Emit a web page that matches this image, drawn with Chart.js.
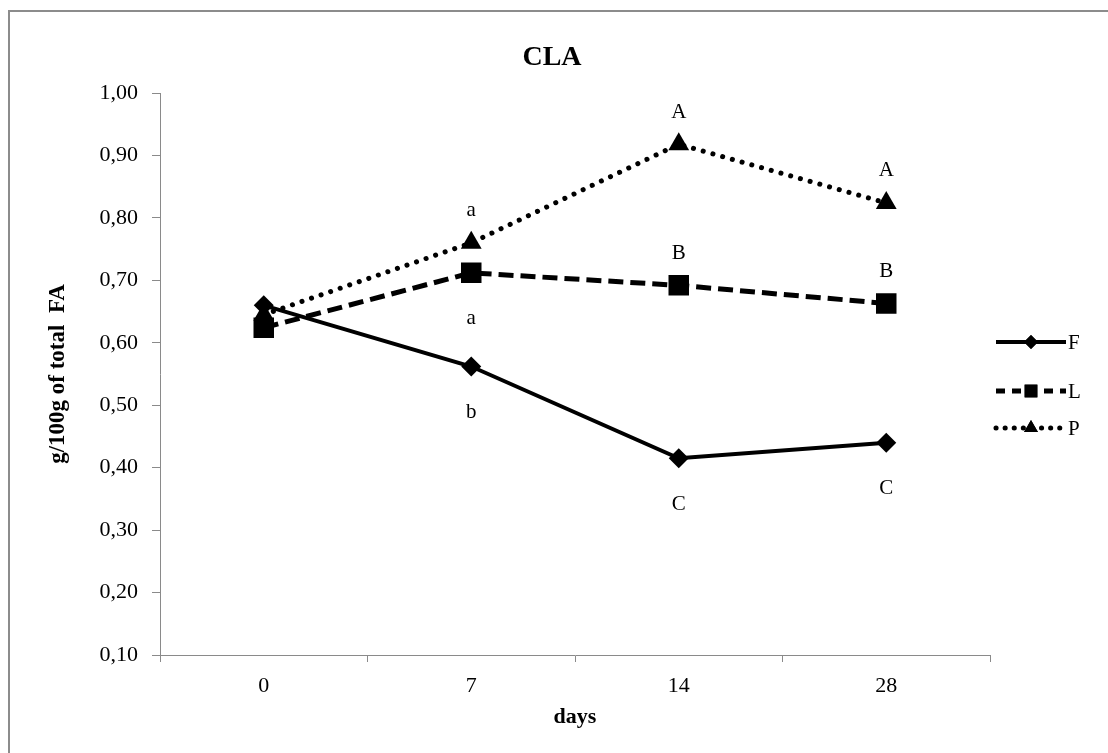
<!DOCTYPE html>
<html>
<head>
<meta charset="utf-8">
<script src="https://cdn.jsdelivr.net/npm/chart.js@4/dist/chart.umd.min.js"></script>
<style>
  html, body { margin: 0; padding: 0; background: #fff; }
  #wrap { width: 1108px; height: 753px; }
</style>
</head>
<body>
<div id="wrap"><canvas id="claChart" width="1108" height="753"></canvas></div>
<script>
// values
const days = ['0', '7', '14', '28'];
const fValues = [0.660, 0.562, 0.415, 0.440];
const lValues = [0.624, 0.712, 0.692, 0.663];
const pValues = [0.645, 0.760, 0.918, 0.824];

// significance letters and whether they sit above or below the point
const fLetters = ['', 'b', 'C', 'C'];
const fLetterSide = ['', 'below', 'below', 'below'];
const lLetters = ['', 'a', 'B', 'B'];
const lLetterSide = ['', 'below', 'above', 'above'];
const pLetters = ['', 'a', 'A', 'A'];
const pLetterSide = ['', 'above', 'above', 'above'];

const yTicksMin = 0.1;
const yTicksMax = 1.0;
const yTicksStep = 0.1;

const chartTitle = 'CLA';
const serif = '"Liberation Serif", "Times New Roman", serif';
const axisGray = '#8a8a8a';

// little helper for the markers in the legend
function marker(ctx, style, r, x, y) {
  if (Chart.helpers && Chart.helpers.drawPoint) {
    Chart.helpers.drawPoint(ctx, { pointStyle: style, radius: r, rotation: 0, borderWidth: 0 }, x, y);
    ctx.fill();
  }
}

const extras = {
  id: 'extras',
  beforeDraw(chart) {
    const ctx = chart.ctx;
    ctx.save();
    ctx.fillStyle = '#fff';
    ctx.fillRect(0, 0, chart.width, chart.height);
    ctx.strokeStyle = '#8c8c8c';
    ctx.lineWidth = 2;
    ctx.strokeRect(9, 11, chart.width + 50, chart.height + 50);
    // title, sitting a bit left of the plot centre like the original
    ctx.fillStyle = '#000';
    ctx.font = 'bold 28px ' + serif;
    ctx.textAlign = 'center';
    ctx.textBaseline = 'middle';
    ctx.fillText(chartTitle, 552, 58);
    ctx.restore();
  },
  afterDatasetsDraw(chart) {
    const ctx = chart.ctx;
    ctx.save();
    ctx.font = '21px ' + serif;
    ctx.fillStyle = '#000';
    ctx.textAlign = 'center';
    ctx.textBaseline = 'middle';
    chart.data.datasets.forEach((ds, i) => {
      const meta = chart.getDatasetMeta(i);
      ds.letters.forEach((txt, j) => {
        if (!txt) return;
        const pt = meta.data[j];
        const dy = ds.letterSide[j] === 'above' ? -32 : 46;
        ctx.fillText(txt, pt.x, pt.y + dy);
      });
    });
    ctx.restore();
  },
  afterDraw(chart) {
    const ctx = chart.ctx;
    const rows = [342, 391, 428];
    ctx.save();
    chart.data.datasets.forEach((ds, i) => {
      const y = rows[i];
      ctx.strokeStyle = '#000';
      ctx.fillStyle = '#000';
      ctx.lineWidth = ds.borderWidth;
      ctx.lineCap = ds.borderCapStyle || 'butt';
      ctx.setLineDash(ds.legendDash);
      ctx.beginPath();
      ctx.moveTo(996, y);
      ctx.lineTo(1066, y);
      ctx.stroke();
      ctx.setLineDash([]);
      marker(ctx, ds.pointStyle, ds.legendRadius, 1031, y);
      ctx.font = '21px ' + serif;
      ctx.textAlign = 'left';
      ctx.textBaseline = 'middle';
      ctx.fillText(ds.label, 1068, y + 1);
    });
    ctx.restore();
  }
};

document.addEventListener('DOMContentLoaded', function () {
  const ctx = document.getElementById('claChart').getContext('2d');

  new Chart(ctx, {
    type: 'line',
    data: {
      labels: days,
      datasets: [
        {
          label: 'F',
          data: fValues,
          letters: fLetters,
          letterSide: fLetterSide,
          borderColor: '#000',
          borderWidth: 4,
          pointStyle: 'rectRot',
          pointRadius: 10,
          legendRadius: 7,
          legendDash: [],
          pointBackgroundColor: '#000',
          pointBorderWidth: 0,
          tension: 0
        },
        {
          label: 'L',
          data: lValues,
          letters: lLetters,
          letterSide: lLetterSide,
          borderColor: '#000',
          borderWidth: 5,
          borderDash: [15, 7],
          pointStyle: 'rect',
          pointRadius: 14.5,
          legendRadius: 9,
          legendDash: [9, 7],
          pointBackgroundColor: '#000',
          pointBorderWidth: 0,
          tension: 0
        },
        {
          label: 'P',
          data: pValues,
          letters: pLetters,
          letterSide: pLetterSide,
          borderColor: '#000',
          borderWidth: 5,
          borderDash: [0.1, 10],
          borderCapStyle: 'round',
          pointStyle: 'triangle',
          pointRadius: 12,
          legendRadius: 8,
          legendDash: [0.1, 9],
          pointBackgroundColor: '#000',
          pointBorderWidth: 0,
          tension: 0
        }
      ]
    },
    options: {
      responsive: false,
      animation: false,
      layout: { padding: { left: 0, right: 118, top: 93, bottom: 0 } },
      plugins: {
        legend: { display: false },
        tooltip: { enabled: false },
        title: { display: false }
      },
      scales: {
        x: {
          type: 'category',
          offset: true,
          afterFit: s => { s.height = 98; },
          grid: { offset: true, drawOnChartArea: false, tickLength: 7, color: axisGray },
          border: { color: axisGray, width: 1 },
          ticks: { color: '#000', font: { family: serif, size: 22 }, padding: 11 },
          title: {
            display: true,
            text: 'days',
            color: '#000',
            font: { family: serif, size: 22, weight: 'bold' },
            padding: { top: 0, bottom: 22 }
          }
        },
        y: {
          min: yTicksMin,
          max: yTicksMax,
          afterFit: s => { s.width = 160; },
          grid: { drawOnChartArea: false, tickLength: 8, color: axisGray },
          border: { color: axisGray, width: 1 },
          ticks: {
            stepSize: yTicksStep,
            color: '#000',
            font: { family: serif, size: 22 },
            padding: 14,
            callback: v => v.toFixed(2).replace('.', ',')
          },
          title: {
            display: true,
            text: 'g/100g of total  FA',
            color: '#000',
            font: { family: serif, size: 23, weight: 'bold' },
            padding: { top: 44, bottom: 0 }
          }
        }
      }
    },
    plugins: [extras]
  });
});
</script>
</body>
</html>
